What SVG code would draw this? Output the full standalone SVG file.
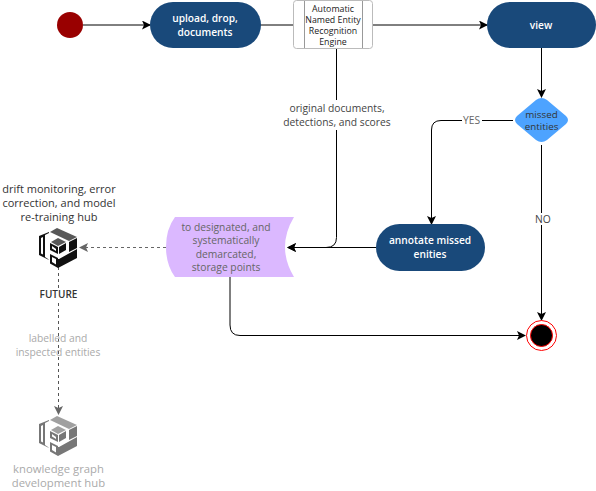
<svg xmlns="http://www.w3.org/2000/svg" width="596" height="491" viewBox="0 0 596 491">
<style>
text{font-family:"Open Sans","Noto Sans","Liberation Sans",sans-serif;font-size:10.3px;text-anchor:middle}
.b{font-weight:600;fill:#fff;font-size:10.2px}
.g{fill:#666}
.f{fill:#aaa}
.h{font-size:11px}
.e{font-size:8.8px;fill:#222}
.m{font-size:9.8px;fill:#333}
.c{fill:none;stroke:#000;stroke-width:1}
.d{fill:none;stroke-dasharray:3 3;stroke-width:1}
.t{fill-opacity:.7}
</style>
<defs>
<marker id="a" markerWidth="10" markerHeight="10" refX="8" refY="4.500" orient="auto" markerUnits="userSpaceOnUse"><path d="M0 0L9 4.500L0 9L2 4.500Z" fill="#000"/></marker>
<marker id="g" markerWidth="10" markerHeight="10" refX="8" refY="4.500" orient="auto" markerUnits="userSpaceOnUse"><path d="M0 0L9 4.500L0 9L2 4.500Z" fill="#666"/></marker>
<g id="hub">
<path class="t" d="M11 4L18 0L38 9L30 13Z"/>
<path d="M30 14L38 10V20L30 24Z"/>
<path d="M0 8L10 4V5L6 7V29L9 31L10 32L0 27ZM2 10V25.500L4 26.500V9Z"/>
<path class="t" d="M12 14L19 10L27 14L19 18Z"/>
<path d="M20 19L27 15V22L20 26Z"/>
<path d="M11 15L19 19V26L11 22ZM13 18V20.500L17 23V21Z"/>
<path d="M20 31L38 21V30L19 40V31Z"/>
<path d="M11 26L19 30V40L11 35.500ZM13 29V34L17 36.500V31Z"/>
</g>
</defs>
<g id="connectors">
<path class="c" d="M83 25H150" marker-end="url(#a)"/>
<path class="c" d="M260 25H293"/>
<path class="c" d="M373 25H487" marker-end="url(#a)"/>
<path class="c" d="M541.500 48V97" marker-end="url(#a)"/>
<path class="c" d="M336.500 49V237.500Q336.500 247.500 326 247.500H288" marker-end="url(#a)"/>
<path class="c" d="M513 120.500H441Q431.500 120.500 431.500 130V224" marker-end="url(#a)"/>
<path class="c" d="M376 247.500H288" marker-end="url(#a)"/>
<path class="c" d="M541.500 145V320" marker-end="url(#a)"/>
<path class="c" d="M230 277V325Q230 335.500 240 335.500H525" marker-end="url(#a)"/>
<path class="d" stroke="#666" d="M166 247.500H80" marker-end="url(#g)"/>
<path class="d" stroke="#555" d="M58.500 267V414" marker-end="url(#g)"/>
</g>
<g id="start"><circle cx="70" cy="25" r="13" fill="#990000"/></g>
<g id="upload"><rect x="150" y="2" width="111" height="46" rx="23" fill="#19497a"/><text class="b" x="205" y="22">upload, drop,</text><text class="b" x="205" y="36">documents</text></g>
<g id="engine"><rect x="293.500" y="0.500" width="79" height="48" rx="3" fill="#fff" stroke="#bbb"/><path d="M304.500 1V48M362.500 1V48" stroke="#999" fill="none"/>
<text class="e" x="333" y="12">Automatic</text><text class="e" x="333" y="23">Named Entity</text><text class="e" x="333" y="33.500">Recognition</text><text class="e" x="333" y="45">Engine</text></g>
<g id="view"><rect x="487" y="2" width="109" height="46" rx="23" fill="#19497a"/><text class="b" x="541" y="29">view</text></g>
<g id="decision"><path d="M536 100Q541.500 96 547 100L566 116Q570 120 566 124L547 140Q541.500 144 536 140L517 124Q513 120 517 116Z" fill="#4da3ff"/><text class="m" x="541.500" y="118">missed</text><text class="m" x="541.500" y="130">entities</text></g>
<g id="annotate"><rect x="376" y="224" width="109" height="47" rx="23.500" fill="#19497a"/><text class="b" x="430" y="244">annotate missed</text><text class="b" x="430" y="258">enities</text></g>
<g id="storage"><path d="M175 217H294Q285 232 285 247Q285 262 294 277H175Q166 265 166 247Q166 229 175 217Z" fill="#dbb8ff"/>
<text class="g" x="226" y="231">to designated, and</text><text class="g" x="226" y="244">systematically</text><text class="g" x="226" y="258">demarcated,</text><text class="g" x="226" y="271">storage points</text></g>
<g id="end"><circle cx="541.500" cy="335.500" r="15" fill="#fff" stroke="#f00"/><circle cx="541.500" cy="335.500" r="11" fill="#000" stroke="#f00"/></g>
<g id="driftHub"><use href="#hub" x="39" y="228" fill="#111"/><text class="h" x="59" y="193" fill="#333">drift monitoring, error</text><text class="h" x="59" y="207" fill="#333">correction, and model</text><text class="h" x="59" y="221" fill="#333">re-training hub</text><rect x="36" y="288" width="46" height="13" fill="#fff"/><text x="58.500" y="298" fill="#333" style="font-weight:600;font-size:10px">FUTURE</text></g>
<g id="kgHub"><use href="#hub" x="39" y="416" fill="#777"/><text class="f" x="58.500" y="473" style="font-size:11.300px">knowledge graph</text><text class="f" x="58.500" y="487" style="font-size:11.300px">development hub</text></g>
<g id="labels">
<rect x="280" y="100" width="112" height="30" fill="#fff"/><text x="337" y="112" fill="#444">original documents,</text><text x="337" y="126" fill="#444">detections, and scores</text>
<rect x="462" y="115" width="20" height="12" fill="#fff"/><text class="g" x="471.500" y="124">YES</text>
<rect x="533" y="213" width="18" height="12" fill="#fff"/><text x="543" y="223" fill="#444">NO</text>
<text class="f" x="58" y="342">labelled and</text><text class="f" x="58" y="356">inspected entities</text>
</g>
</svg>
